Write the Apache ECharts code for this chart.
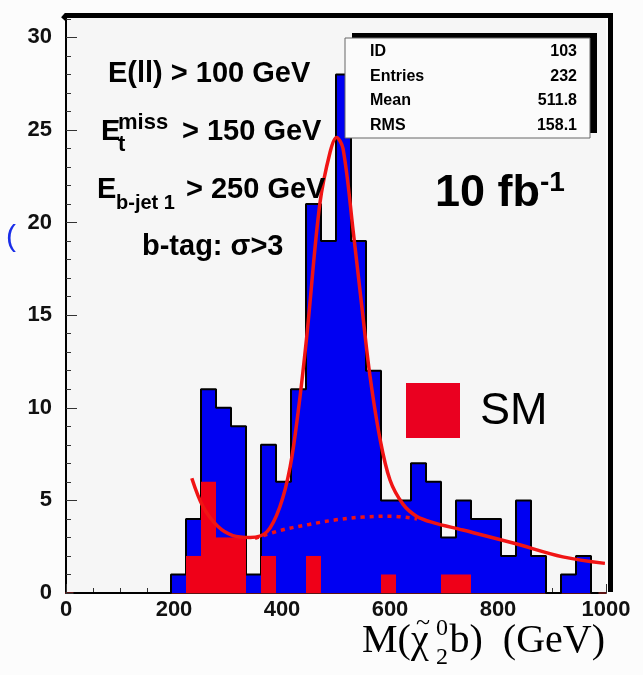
<!DOCTYPE html>
<html>
<head>
<meta charset="UTF-8">
<title>M(chi2 b)</title>
<script src="https://cdn.jsdelivr.net/npm/echarts@6/dist/echarts.min.js"></script>
<style>
html,body{margin:0;padding:0;background:#fcfcfc;}
#main{width:643px;height:675px;}
</style>
</head>
<body>
<div id="main"></div>
<script>
// histogram: 36 bins between 0 and 1000 GeV
var binCount = 36;
var signalCounts = [0,0,0,0,0,0,0,1,4,11,10,9,1,8,6,11,21,19,28,19,12,5,5,7,6,3,5,4,4,2,5,2,0,1,2,0];
var smCounts     = [0,0,0,0,0,0,0,0,2,6,3,3,0,2,0,0,2,0,0,0,0,1,0,0,0,1,1,0,0,0,0,0,0,0,0,0];

// fit (signal + background) and background only
var fitCurve = [[233,6.2],[254,4.65],[281,3.6],[309,3.1],[341,3.0],[372,3.3],[396,4.65],[415,6.8],[430,9.8],
    [446,13.9],[470,21],[489,23.8],[501,24.6],[513,24],[532,19.5],[550,14.9],[563,11.7],[581,8.4],[600,6.1],
    [624,4.8],[649,4.15],[680,3.8],[735,3.4],[828,2.7],[920,1.95],[998,1.6]];
var bgCurve = [[350,2.95],[400,3.4],[450,3.7],[500,3.95],[550,4.1],[600,4.15],[650,4.0]];

var yMajorTicks = [0,5,10,15,20,25,30];
var yMinorTicks = [1,2,3,4,6,7,8,9,11,12,13,14,16,17,18,19,21,22,23,24,26,27,28,29,31];

var statNames  = ['ID','Entries','Mean','RMS'];
var statValues = ['103','232','511.8','158.1'];

var binLabels = [];
for (var i = 0; i < binCount; i++) binLabels.push(String(Math.round(i * 1000 / binCount)));

var sans = 'Liberation Sans, Arial, sans-serif';
var serif = 'Liberation Serif, DejaVu Serif, serif';

var chart = echarts.init(document.getElementById('main'));

function txt(x, y, s, font, extra) {
    var style = {text:s, font:font, fill:'#000', verticalAlign:'middle'};
    if (extra) style.align = extra;
    return {type:'text', x:x, y:y, style:style, z:50};
}

var graphics = [
    // thick frame on top and right
    {type:'polyline', shape:{points:[[63,19],[66,15.5],[610.5,15.5],[610.5,592]]}, style:{stroke:'#000', lineWidth:5, fill:null}, z:50},
    // stats box
    {type:'rect', shape:{x:352, y:33, width:245, height:100}, style:{fill:'#000'}, z:50},
    {type:'rect', shape:{x:345, y:38, width:245, height:100}, style:{fill:'#fbfbfb', stroke:'#666', lineWidth:1}, z:51},
    // SM legend
    {type:'rect', shape:{x:406, y:383, width:54, height:55}, style:{fill:'#ea0020'}, z:50},
    txt(480, 412, 'SM', '45px ' + sans),
    // cuts
    txt(108, 74, 'E(ll) > 100 GeV', 'bold 29px ' + sans),
    txt(101, 132, 'E', 'bold 29px ' + sans),
    txt(118, 123, 'miss', 'bold 22px ' + sans),
    txt(118, 145, 't', 'bold 22px ' + sans),
    txt(182, 132, '> 150 GeV', 'bold 29px ' + sans),
    txt(97, 190, 'E', 'bold 29px ' + sans),
    txt(116, 203, 'b-jet 1', 'bold 20px ' + sans),
    txt(186, 190, '> 250 GeV', 'bold 29px ' + sans),
    txt(142, 247, 'b-tag: σ>3', 'bold 29px ' + sans),
    // luminosity
    txt(435, 194, '10 fb', 'bold 45px ' + sans),
    txt(540, 183, '-1', 'bold 28px ' + sans),
    // x axis title
    txt(362, 641, 'M(χ', '40px ' + serif),
    txt(416, 623, '~', '26px ' + serif),
    txt(436, 629, '0', '24px ' + serif),
    txt(436, 658, '2', '24px ' + serif),
    txt(605, 641, 'b)  (GeV)', '40px ' + serif, 'right'),
    // stray blue mark at the left edge
    {type:'text', x:6, y:238, style:{text:'(', font:'30px ' + sans, fill:'#1a2ee8', verticalAlign:'middle'}, z:50}
];
var rowY = [52, 76.5, 101, 126];
for (var r = 0; r < statNames.length; r++) {
    graphics.push({type:'text', x:370, y:rowY[r], style:{text:statNames[r], font:'bold 16px ' + sans, fill:'#000', verticalAlign:'middle'}, z:52});
    graphics.push({type:'text', x:577, y:rowY[r], style:{text:statValues[r], font:'bold 16px ' + sans, fill:'#000', verticalAlign:'middle', align:'right'}, z:52});
}

var option = {
    animation: false,
    backgroundColor: '#fcfcfc',
    grid: {left:66, right:37, top:17, bottom:82, show:true, backgroundColor:'#f6f6f6', borderWidth:0},
    xAxis: [
        {type:'category', data:binLabels, position:'bottom', boundaryGap:true, show:false},
        {
            type:'value', min:0, max:1000, interval:200, position:'bottom',
            axisLine:{lineStyle:{color:'#5c1414', width:2}},
            axisTick:{inside:true, length:9, lineStyle:{color:'#333'}},
            minorTick:{show:true, splitNumber:4, length:5, lineStyle:{color:'#333'}},
            splitLine:{show:false}, minorSplitLine:{show:false},
            axisLabel:{color:'#111', fontWeight:'bold', fontSize:22, fontFamily:sans, margin:6,
                formatter:function (v) { return String(v); }}
        }
    ],
    yAxis: [
        {
            type:'value', min:0, max:31.1, position:'left',
            axisLine:{show:true, lineStyle:{color:'#000', width:2}},
            axisTick:{show:true, inside:true, length:11, customValues:yMajorTicks, lineStyle:{color:'#333'}},
            axisLabel:{customValues:yMajorTicks, color:'#111', fontWeight:'bold', fontSize:22, fontFamily:sans, margin:14},
            splitLine:{show:false}
        },
        {
            type:'value', min:0, max:31.1, position:'left',
            axisLine:{show:false},
            axisTick:{show:true, inside:true, length:5, customValues:yMinorTicks, lineStyle:{color:'#333'}},
            axisLabel:{show:false},
            splitLine:{show:false}
        }
    ],
    series: [
        {
            type:'bar', xAxisIndex:0, yAxisIndex:0, data:signalCounts,
            barCategoryGap:'0%', barGap:'-100%', z:2,
            itemStyle:{color:'#0000f2'}
        },
        {
            type:'line', xAxisIndex:0, yAxisIndex:0, data:signalCounts, step:'middle',
            symbol:'none', z:3, lineStyle:{color:'#000', width:2}
        },
        {
            type:'bar', xAxisIndex:0, yAxisIndex:0, data:smCounts,
            barCategoryGap:'0%', barGap:'-100%', z:4,
            itemStyle:{color:'#ef0018'}
        },
        {
            type:'line', xAxisIndex:1, yAxisIndex:0, data:fitCurve, smooth:0.35,
            symbol:'none', z:5, lineStyle:{color:'#f01414', width:3.5}
        },
        {
            type:'line', xAxisIndex:1, yAxisIndex:0, data:bgCurve, smooth:0.4,
            symbol:'none', z:5, lineStyle:{color:'#f01414', width:3.5, type:[4,5]}
        }
    ],
    graphic: graphics
};
chart.setOption(option);
</script>
</body>
</html>
